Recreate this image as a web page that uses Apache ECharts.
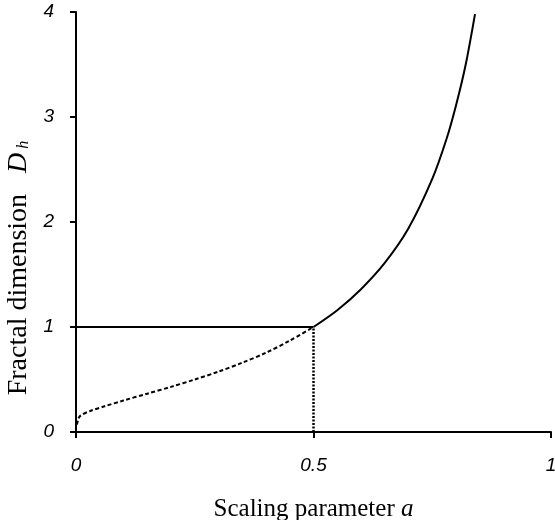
<!DOCTYPE html>
<html>
<head>
<meta charset="utf-8">
<script src="https://cdn.jsdelivr.net/npm/echarts@6/dist/echarts.min.js"></script>
<style>html,body{margin:0;padding:0;background:#fff}#c{width:555px;height:520px}</style>
</head>
<body>
<div id="c"></div>
<script>
// Scaling parameter a vs fractal dimension D_h
const lowA  = [0.002, 0.008, 0.03, 0.06, 0.1, 0.15, 0.2, 0.25, 0.3, 0.35, 0.4, 0.45, 0.5];
const lowD  = [0.07, 0.15, 0.2, 0.245, 0.30, 0.365, 0.43, 0.50, 0.575, 0.66, 0.755, 0.87, 1.0];
const highA = [0.5, 0.55, 0.6, 0.65, 0.7, 0.75, 0.78, 0.8, 0.82, 0.84];
const highD = [1.0, 1.16, 1.36, 1.61, 1.94, 2.41, 2.79, 3.11, 3.49, 3.98];
const refA = 0.5;
const refD = 1;
const xTicks = [0, 0.5, 1];
const yTicks = [0, 1, 2, 3, 4];

const pairs = (xs, ys) => xs.map((x, i) => [x, ys[i]]);

const chart = echarts.init(document.getElementById('c'), null, {renderer: 'canvas'});
const labelStyle = {color: '#000', fontFamily: 'Liberation Sans', fontStyle: 'italic', fontSize: 19};
chart.setOption({
  animation: false,
  backgroundColor: '#fff',
  grid: {left: 76, right: 4, top: 12, bottom: 88, containLabel: false, outerBoundsMode: 'none'},
  xAxis: {
    type: 'value', min: xTicks[0], max: xTicks[xTicks.length - 1], interval: 0.5,
    axisLine: {lineStyle: {color: '#000', width: 2}},
    axisTick: {show: true, length: 6, lineStyle: {color: '#000', width: 2}},
    splitLine: {show: false},
    axisLabel: Object.assign({margin: 24, formatter: v => String(v)}, labelStyle),
    name: '{n|Scaling parameter }{a|a}',
    nameLocation: 'middle', nameGap: 65,
    nameTextStyle: {
      rich: {
        n: {fontFamily: 'Liberation Serif', fontSize: 25, color: '#000'},
        a: {fontFamily: 'Liberation Serif', fontSize: 25, fontStyle: 'italic', color: '#000'}
      }
    }
  },
  yAxis: {
    type: 'value', min: yTicks[0], max: yTicks[yTicks.length - 1], interval: 1,
    axisLine: {show: true, lineStyle: {color: '#000', width: 2}},
    axisTick: {show: true, length: 6, lineStyle: {color: '#000', width: 2}},
    splitLine: {show: false},
    axisLabel: Object.assign({margin: 22}, labelStyle),
    name: '{n|Fractal dimension   }{d|D}{h| h}',
    nameLocation: 'middle', nameGap: 39, nameRotate: 90,
    nameTextStyle: {
      padding: [0, 92, 0, 0],
      rich: {
        n: {fontFamily: 'Liberation Serif', fontSize: 28, color: '#000'},
        d: {fontFamily: 'Liberation Serif', fontSize: 28, fontStyle: 'italic', color: '#000'},
        h: {fontFamily: 'Liberation Serif', fontSize: 16, fontStyle: 'italic', color: '#000', padding: [10, 0, 0, 0]}
      }
    }
  },
  series: [
    {
      type: 'line', name: 'ref-h', showSymbol: false, silent: true,
      data: [[0, refD], [refA, refD]],
      lineStyle: {color: '#000', width: 2, type: 'solid'}
    },
    {
      type: 'line', name: 'ref-v', showSymbol: false, silent: true,
      data: [[refA, 0], [refA, refD]],
      lineStyle: {color: '#000', width: 2.5, type: [2, 1.5]}
    },
    {
      type: 'line', name: 'low', showSymbol: false, silent: true, smooth: 0.3,
      data: pairs(lowA, lowD),
      lineStyle: {color: '#000', width: 2, type: [4, 2.5]}
    },
    {
      type: 'line', name: 'high', showSymbol: false, silent: true, smooth: 0.3,
      data: pairs(highA, highD),
      lineStyle: {color: '#000', width: 2, type: 'solid'}
    }
  ]
});
</script>
</body>
</html>
